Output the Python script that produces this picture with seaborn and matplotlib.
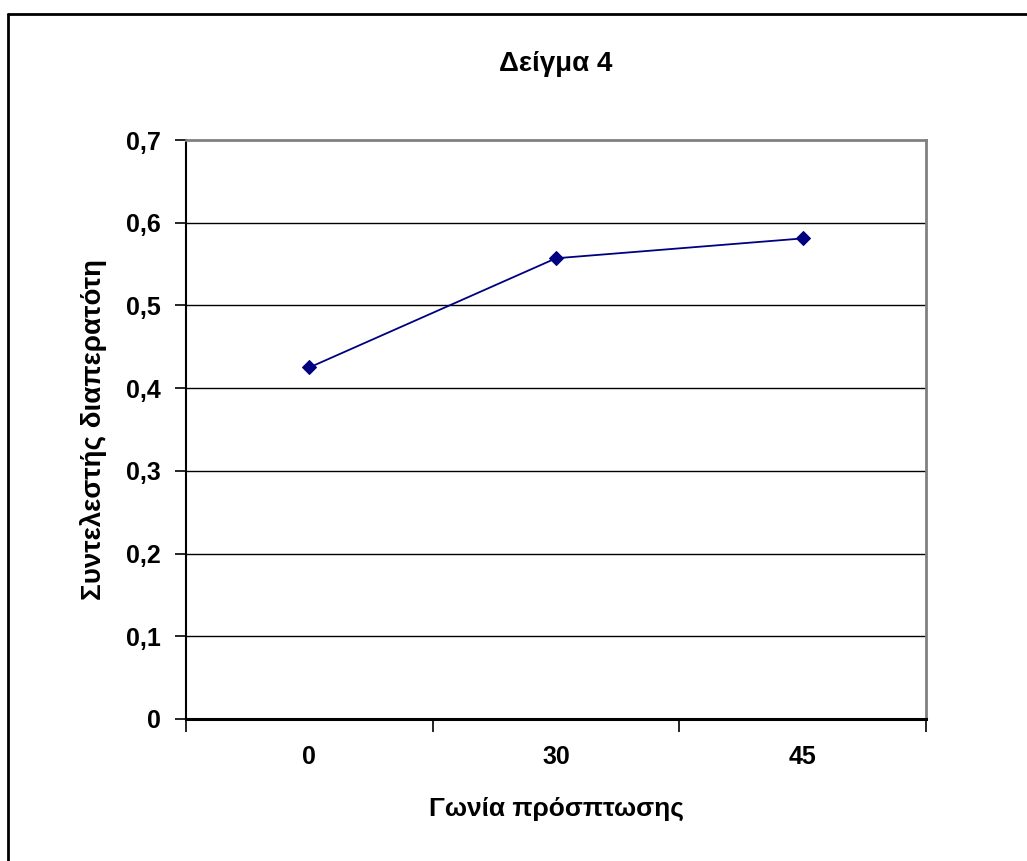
import matplotlib
matplotlib.use("Agg")
import matplotlib.pyplot as plt
from matplotlib.lines import Line2D
from matplotlib.ticker import FixedLocator
import pandas as pd
import seaborn as sns

# Data
angles = ["0", "30", "45"]
coefficients = [0.425, 0.557, 0.581]
y_ticks = [0, 0.1, 0.2, 0.3, 0.4, 0.5, 0.6, 0.7]
y_tick_labels = ["0", "0,1", "0,2", "0,3", "0,4", "0,5", "0,6", "0,7"]

title = "Δείγμα 4"
x_label = "Γωνία πρόσπτωσης"
y_label = "Συντελεστής διαπερατότη"

sns.set_theme(style="white")
plt.rcParams["font.family"] = ["Liberation Sans", "DejaVu Sans"]
plt.rcParams["font.weight"] = "bold"
plt.rcParams["text.color"] = "black"
plt.rcParams["axes.labelcolor"] = "black"
plt.rcParams["xtick.color"] = "black"
plt.rcParams["ytick.color"] = "black"

df = pd.DataFrame({"angle": angles, "coef": coefficients})

fig = plt.figure(figsize=(10.27, 8.61), dpi=100)
fig.patch.set_facecolor("white")
ax = fig.add_axes([186 / 1027, 1 - 719 / 861, (926 - 186) / 1027, (719 - 140) / 861])

sns.lineplot(data=df, x="angle", y="coef", ax=ax, color="#000080",
             marker="D", markersize=7.5, markeredgecolor="#000080",
             linewidth=1.3, sort=False, zorder=5)

ax.set_xlim(-0.5, len(angles) - 0.5)
ax.set_ylim(0, 0.7)

# y axis ticks and grid
ax.set_yticks(y_ticks)
ax.set_yticklabels(y_tick_labels, fontsize=18, fontweight="bold", color="black")
for y in y_ticks[1:-1]:
    ax.axhline(y, color="black", linewidth=1.0, zorder=1)
ax.tick_params(axis="y", direction="out", length=8, width=1.2, color="black",
               labelcolor="black", left=True, pad=10)

# x axis: labels at category centres, tick marks at category boundaries
ax.set_xticks(range(len(angles)))
ax.set_xticklabels(angles, fontsize=18, fontweight="bold", color="black")
ax.xaxis.set_minor_locator(FixedLocator([i - 0.5 for i in range(len(angles) + 1)]))
ax.tick_params(axis="x", which="major", length=0, pad=19, labelcolor="black")
ax.tick_params(axis="x", which="minor", direction="out", length=9, width=1.2,
               color="black", bottom=True)

ax.set_xlabel(x_label, fontsize=19, fontweight="bold", labelpad=20, color="black")
ax.set_ylabel(y_label, fontsize=20, fontweight="bold", labelpad=14, color="black")
ax.set_title(title, fontsize=20, fontweight="bold", pad=50, color="black")

for side in ["top", "right"]:
    ax.spines[side].set_color("#808080")
    ax.spines[side].set_linewidth(2.0)
ax.spines["left"].set_color("black")
ax.spines["left"].set_linewidth(1.5)
ax.spines["bottom"].set_color("black")
ax.spines["bottom"].set_linewidth(2.2)

# Chart area frame (top and left edges)
bx, by = 8 / 1027, 1 - 14 / 861
fig.add_artist(Line2D([bx, 1.0], [by, by], transform=fig.transFigure,
                      color="black", linewidth=2.0))
fig.add_artist(Line2D([bx, bx], [0.0, by], transform=fig.transFigure,
                      color="black", linewidth=2.0))

fig.savefig("out.png", dpi=100, facecolor="white")
